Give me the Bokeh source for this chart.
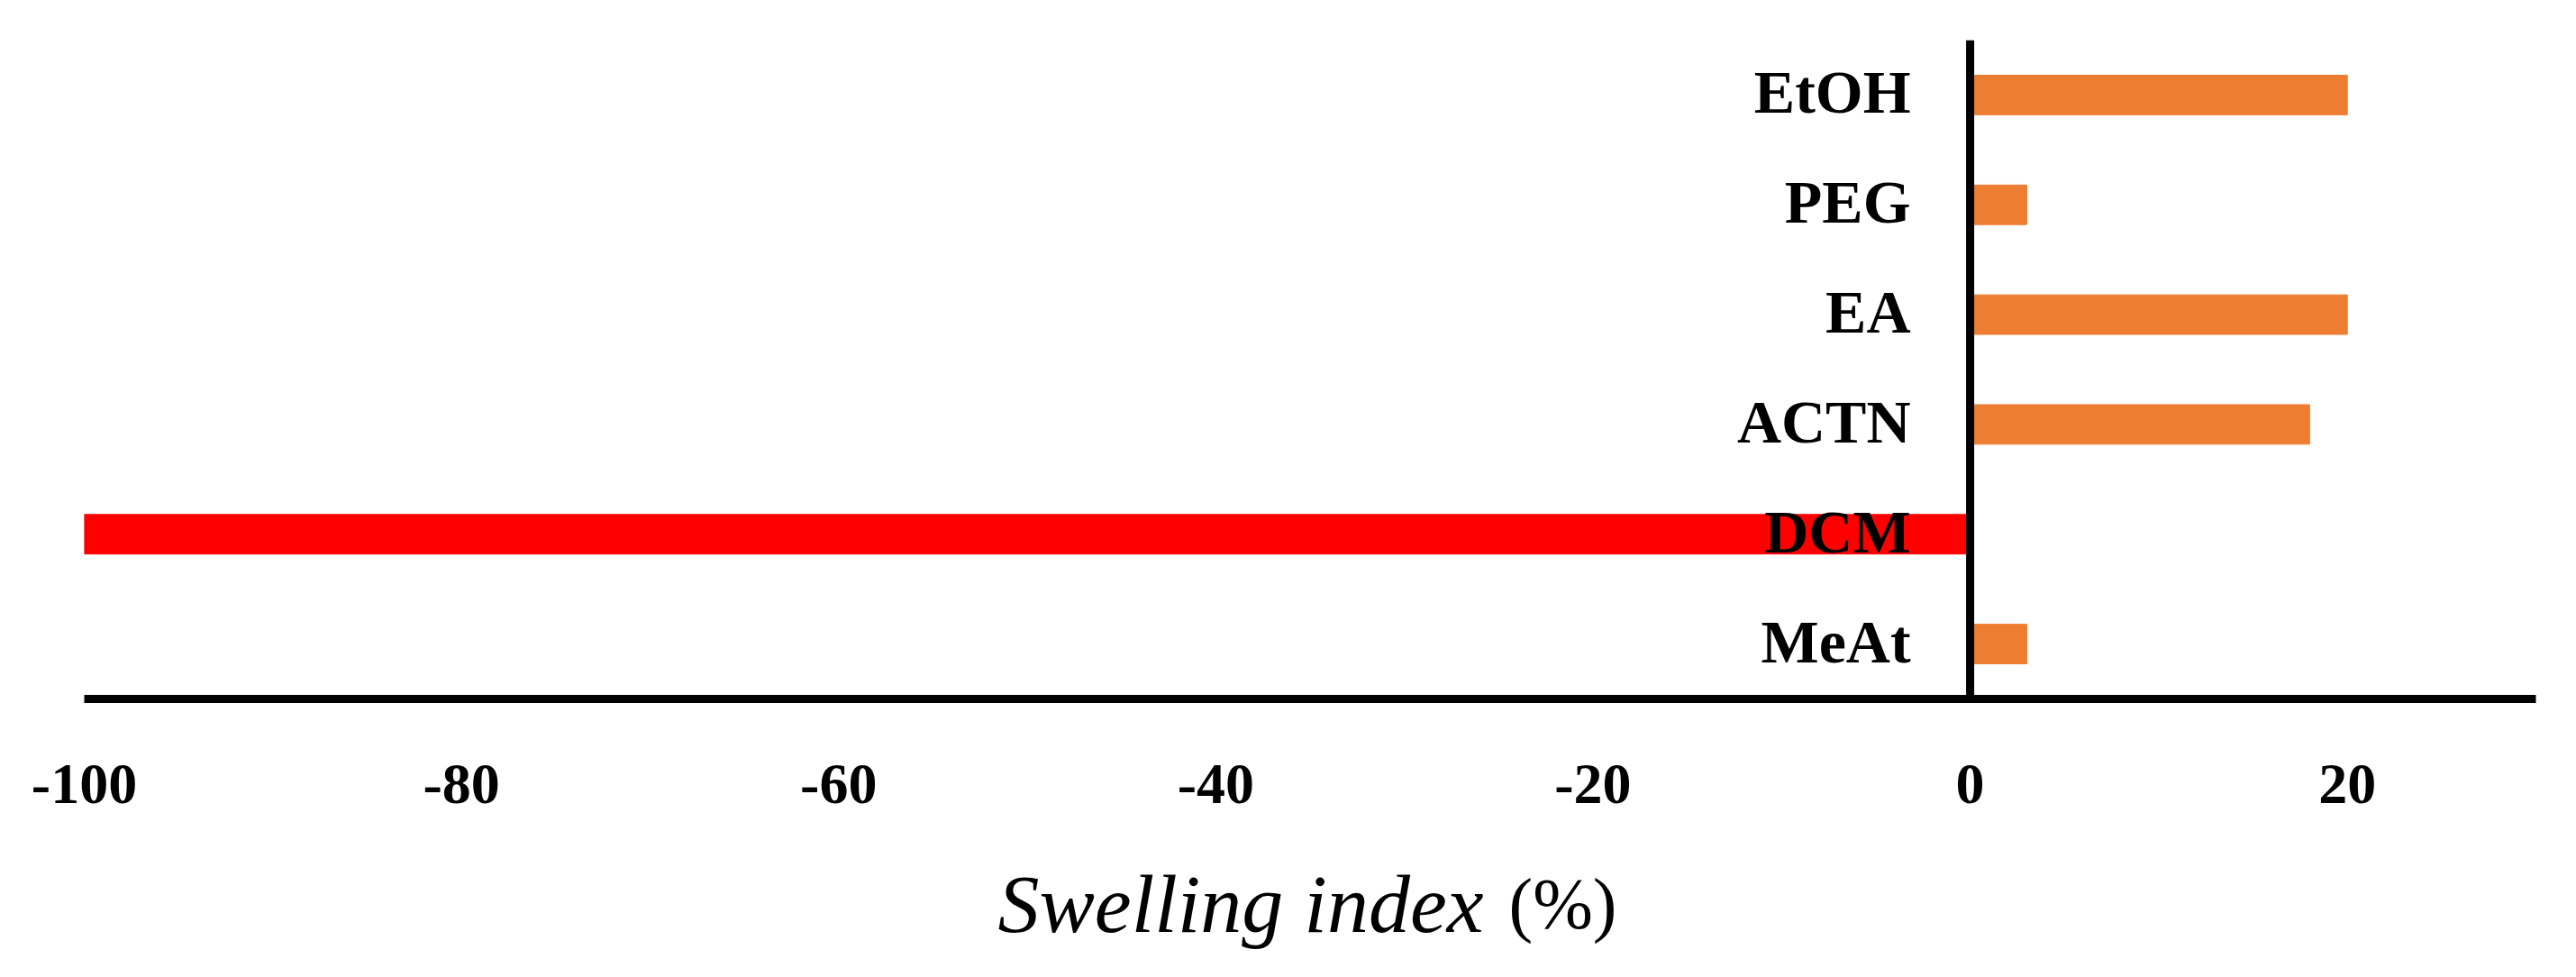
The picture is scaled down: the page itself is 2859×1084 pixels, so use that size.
from bokeh.plotting import figure
from bokeh.layouts import column
from bokeh.models import Range1d, FactorRange, FixedTicker, Span, ColumnDataSource
from bokeh.core.properties import value
from bokeh.embed import file_html
from bokeh.resources import INLINE

# ---- data ----
categories = ["EtOH", "PEG", "EA", "ACTN", "DCM", "MeAt"]   # top to bottom
swelling = [20, 3, 20, 18, -100, 3]
x_ticks = [-100, -80, -60, -40, -20, 0, 20]
x_tick_labels = ["-100", "-80", "-60", "-40", "-20", "0", "20"]
x_title_main = "Swelling index"
x_title_unit = "(%)"

POS = "#ED7D31"
NEG = "#FF0000"
colors = [NEG if v < 0 else POS for v in swelling]

factors = list(reversed(categories))
src = ColumnDataSource(dict(cat=categories, val=swelling, zero=[0] * len(categories), color=colors))

LEFT, RIGHT = 93, 29
xr = Range1d(-100, 30)

p = figure(width=2843, height=925, output_backend="svg", toolbar_location=None,
           x_range=xr, y_range=FactorRange(*factors, range_padding=0),
           min_border_left=LEFT, min_border_right=RIGHT, min_border_top=44, min_border_bottom=150)
p.outline_line_color = None
p.background_fill_color = "white"
p.border_fill_color = "white"
p.xgrid.visible = False
p.ygrid.visible = False
p.yaxis.visible = False

p.hbar(y="cat", left="zero", right="val", height=0.36, color="color", source=src)

# zero line
p.add_layout(Span(location=0, dimension="height", line_color="black", line_width=9))

# category labels next to zero line
p.text(x="zero", y="cat", text="cat", source=src, x_offset=-66, y_offset=-3,
       text_align="right", text_baseline="middle",
       text_font=value("Liberation Serif"), text_font_style="bold",
       text_font_size="68px", text_color="black")

xa = p.xaxis[0]
xa.ticker = FixedTicker(ticks=x_ticks)
xa.major_label_overrides = {t: l for t, l in zip(x_ticks, x_tick_labels)}
xa.axis_line_color = "black"
xa.axis_line_width = 9
xa.major_tick_line_color = None
xa.minor_tick_line_color = None
xa.major_tick_out = 0
xa.major_tick_in = 0
xa.major_label_standoff = 73
xa.major_label_text_font = "Liberation Serif"
xa.major_label_text_font_style = "bold"
xa.major_label_text_font_size = "64px"
xa.major_label_text_color = "black"

# axis title strip (italic name + upright unit), sharing the x range
q = figure(width=2843, height=143, output_backend="svg", toolbar_location=None,
           x_range=xr, y_range=Range1d(0, 143),
           min_border_left=LEFT, min_border_right=RIGHT, min_border_top=0, min_border_bottom=0)
q.outline_line_color = None
q.axis.visible = False
q.grid.visible = False
q.background_fill_color = "white"
q.border_fill_color = "white"

split = -25.8
q.text(x=[split], y=[66], text=[x_title_main], text_align="right", text_baseline="alphabetic",
       text_font=value("Liberation Serif"), text_font_style="italic",
       text_font_size="92px", text_color="black")
q.text(x=[split], y=[66], text=[x_title_unit], x_offset=28, text_align="left",
       text_baseline="alphabetic",
       text_font=value("Liberation Serif"), text_font_style="normal",
       text_font_size="80px", text_color="black")

layout = column(p, q, spacing=0)
open("out.html", "w").write(file_html(layout, INLINE))
